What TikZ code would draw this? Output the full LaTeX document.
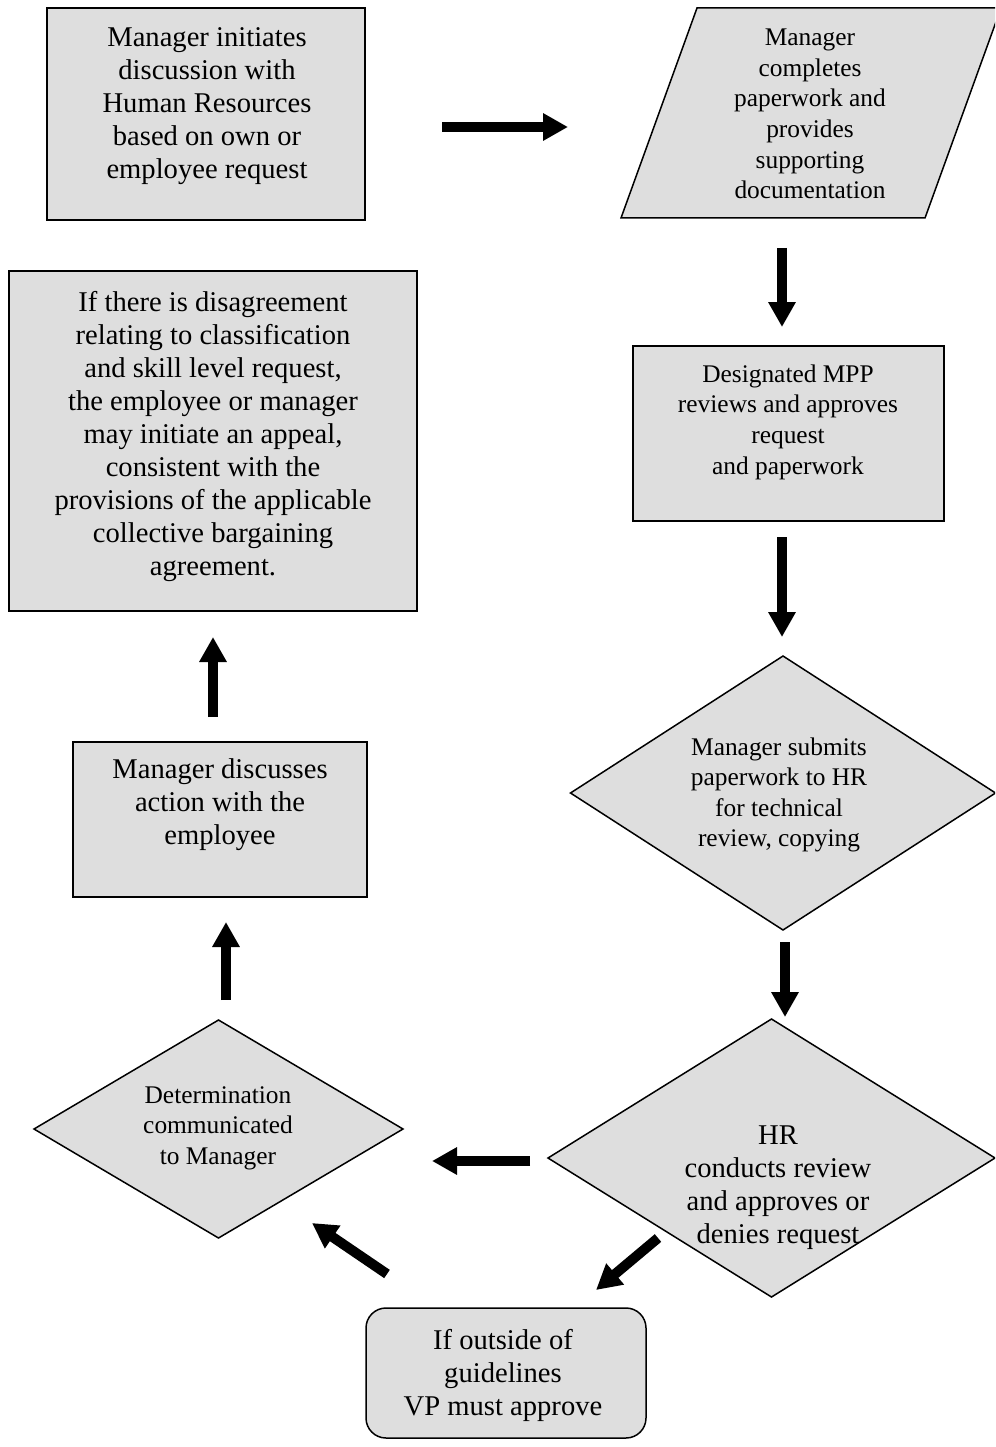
\documentclass[tikz,border=0pt]{standalone}
\usepackage{fontspec}
\setmainfont{Liberation Serif}
\usetikzlibrary{shapes.geometric,arrows.meta}
\definecolor{boxgray}{HTML}{DEDEDE}
\tikzset{
  shapebase/.style={draw=black, fill=boxgray, line width=1.5pt, inner sep=0pt, outer sep=0pt},
  rectbox/.style={shapebase, rectangle},
  diabox/.style={shapebase, diamond},
  txtL/.style={align=center, inner sep=0pt, font=\fontsize{28.6}{33}\selectfont},
  txtS/.style={align=center, inner sep=0pt, font=\fontsize{25.4}{30.6}\selectfont},
  blockarrow/.style={line width=10pt, -{Triangle[length=25pt,width=26pt]}},
}
\begin{document}
\begin{tikzpicture}[x=1pt,y=-1pt]
\useasboundingbox[fill=white] (0,0) rectangle (995,1447);
\clip (0,0) rectangle (995,1447);

% shapes
\node[rectbox, minimum width=318pt, minimum height=212pt] (box1) at (206,114) {};
\draw[shapebase] (697,8) -- (1001,8) -- (925,218) -- (621,218) -- cycle;
\coordinate (para) at (811,113);
\node[rectbox, minimum width=311pt, minimum height=175pt] (mpp) at (788.5,433.5) {};
\node[diabox, minimum width=425pt, minimum height=274pt] (d1) at (783,793) {};
\node[diabox, minimum width=447pt, minimum height=278pt] (d2) at (771.5,1158) {};
\node[rectbox, minimum width=280pt, minimum height=130pt, rounded corners=20pt] (vp) at (506,1373) {};
\node[diabox, minimum width=369pt, minimum height=218pt] (d3) at (218.5,1129) {};
\node[rectbox, minimum width=294pt, minimum height=155pt] (disc) at (220,819.5) {};
\node[rectbox, minimum width=408pt, minimum height=340pt] (big) at (213,441) {};

% texts
\node[txtL] (t1) at (207,106) {Manager initiates\\discussion with\\Human Resources\\based on own or\\employee request};
\node[txtS] (t2) at (810,114) {Manager\\completes\\paperwork and\\provides\\supporting\\documentation};
\node[txtS] (t3) at (788,422) {Designated MPP\\reviews and approves\\request\\and paperwork};
\node[txtS] (t4) at (779,795) {Manager submits\\paperwork to HR\\for technical\\review, copying};
\node[txtL] (t5) at (778,1188) {HR\\conducts review\\and approves or\\denies request};
\node[txtL] (t6) at (503,1375) {If outside of\\guidelines\\VP must approve};
\node[txtS] (t7) at (218,1128) {Determination\\communicated\\to Manager};
\node[txtL] (t8) at (220,805) {Manager discusses\\action with the\\employee};
\node[txtL] (t9) at (213,437) {If there is disagreement\\relating to classification\\and skill level request,\\the employee or manager\\may initiate an appeal,\\consistent with the\\provisions of the applicable\\collective bargaining\\agreement.};

% arrow end points
\coordinate (a1s) at (442,127);  \coordinate (a1e) at (568,127);
\coordinate (a2s) at (782,248);  \coordinate (a2e) at (782,327);
\coordinate (a3s) at (782,537);  \coordinate (a3e) at (782,637);
\coordinate (a4s) at (785,942);  \coordinate (a4e) at (785,1017);
\coordinate (a5s) at (658,1238); \coordinate (a5e) at (596,1290);
\coordinate (a6s) at (530,1161); \coordinate (a6e) at (432,1161);
\coordinate (a7s) at (387,1274); \coordinate (a7e) at (312,1223);
\coordinate (a8s) at (226,1000); \coordinate (a8e) at (226,922);
\coordinate (a9s) at (213,717);  \coordinate (a9e) at (213,637);

\draw[blockarrow] (a1s) -- (a1e);
\draw[blockarrow] (a2s) -- (a2e);
\draw[blockarrow] (a3s) -- (a3e);
\draw[blockarrow] (a4s) -- (a4e);
\draw[blockarrow] (a5s) -- (a5e);
\draw[blockarrow] (a6s) -- (a6e);
\draw[blockarrow] (a7s) -- (a7e);
\draw[blockarrow] (a8s) -- (a8e);
\draw[blockarrow] (a9s) -- (a9e);
\end{tikzpicture}
\end{document}
